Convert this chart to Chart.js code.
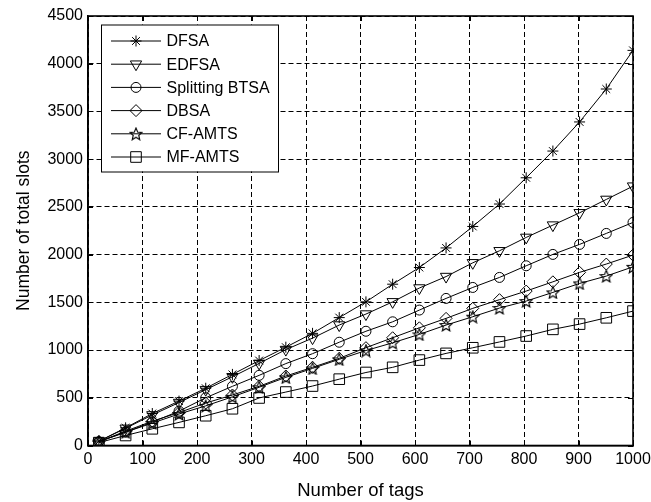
<!DOCTYPE html>
<html>
<head>
<meta charset="utf-8">
<script src="https://cdn.jsdelivr.net/npm/chart.js@4/dist/chart.umd.min.js"></script>
<style>
  html, body { margin: 0; padding: 0; background: #fff; }
  #wrap { width: 651px; height: 502px; }
</style>
</head>
<body>
<div id="wrap"><canvas id="slotsChart" width="651" height="502"></canvas></div>
<script>
// Number of tags (x positions of the markers)
const tags = [20, 69, 118, 167, 216, 265, 314, 363, 412, 461, 510, 559, 608, 657, 706, 755, 804, 853, 902, 951, 1000];

// Number of total slots per scheme
const dfsa = [45, 185, 335, 465, 600, 745, 890, 1030, 1175, 1340, 1505, 1690, 1865, 2070, 2295, 2530, 2805, 3085, 3390, 3735, 4140];
const edfsa = [45, 180, 320, 450, 585, 720, 860, 1005, 1125, 1262, 1377, 1505, 1650, 1770, 1914, 2040, 2180, 2309, 2438, 2578, 2717];
const splittingBtsa = [40, 140, 245, 360, 500, 620, 735, 858, 962, 1082, 1197, 1296, 1419, 1541, 1656, 1761, 1883, 2002, 2107, 2222, 2337];
const dbsa = [40, 150, 255, 345, 445, 529, 620, 728, 819, 913, 1025, 1129, 1233, 1332, 1437, 1528, 1618, 1715, 1814, 1901, 1995];
const cfAmts = [40, 140, 235, 330, 415, 510, 610, 714, 808, 903, 995, 1076, 1164, 1262, 1349, 1440, 1513, 1604, 1698, 1775, 1872];
const mfAmts = [30, 105, 175, 242, 312, 385, 498, 560, 623, 695, 765, 819, 895, 965, 1024, 1085, 1147, 1217, 1272, 1338, 1408];

const xTicks = [0, 100, 200, 300, 400, 500, 600, 700, 800, 900, 1000];
const yTicks = [0, 500, 1000, 1500, 2000, 2500, 3000, 3500, 4000, 4500];

const FONT = '"Liberation Sans", Arial, Helvetica, sans-serif';

// hollow five-point star marker (not built into Chart.js)
function pentagram(size) {
    const c = document.createElement('canvas');
    c.width = size;
    c.height = size;
    const g = c.getContext('2d');
    const cx = size / 2, cy = size / 2 + 0.6;
    const R = size / 2 - 0.6, r = R * 0.45;
    g.beginPath();
    for (let i = 0; i < 10; i++) {
        const rad = (i % 2 === 0) ? R : r;
        const a = -Math.PI / 2 + i * Math.PI / 5;
        const px = cx + rad * Math.cos(a), py = cy + rad * Math.sin(a);
        if (i === 0) g.moveTo(px, py); else g.lineTo(px, py);
    }
    g.closePath();
    g.strokeStyle = '#000';
    g.lineWidth = 1.1;
    g.stroke();
    return c;
}
const starImg = pentagram(14);

function series(label, values, style, radius, rotation) {
    return {
        label: label,
        data: tags.map((t, i) => ({ x: t, y: values[i] })),
        borderColor: '#000',
        borderWidth: 1,
        backgroundColor: 'transparent',
        pointStyle: style,
        pointRadius: radius,
        pointRotation: rotation || 0,
        pointBorderColor: '#000',
        pointBackgroundColor: 'transparent',
        pointBorderWidth: 1,
        pointHoverRadius: radius,
        tension: 0,
        fill: false,
    };
}

// box around the axes plus MATLAB style inner ticks
const axesBox = {
    id: 'axesBox',
    afterDraw(chart) {
        const { ctx, chartArea: a, scales } = chart;
        ctx.save();
        ctx.strokeStyle = '#000';
        ctx.lineWidth = 1;
        ctx.beginPath();
        xTicks.forEach(v => {
            const px = Math.round(scales.x.getPixelForValue(v)) + 0.5;
            ctx.moveTo(px, a.bottom); ctx.lineTo(px, a.bottom - 5);
            ctx.moveTo(px, a.top); ctx.lineTo(px, a.top + 5);
        });
        yTicks.forEach(v => {
            const py = Math.round(scales.y.getPixelForValue(v)) + 0.5;
            ctx.moveTo(a.left, py); ctx.lineTo(a.left + 5, py);
            ctx.moveTo(a.right, py); ctx.lineTo(a.right - 5, py);
        });
        ctx.stroke();
        ctx.lineWidth = 1.6;
        ctx.strokeRect(a.left, a.top, a.right - a.left, a.bottom - a.top);
        ctx.restore();
    }
};

// boxed legend in the upper left corner of the axes
const boxLegend = {
    id: 'boxLegend',
    afterDraw(chart) {
        const { ctx, chartArea: a } = chart;
        const left = a.left + 13, top = a.top + 8.5;
        const w = 177, h = 147, rowH = 23.2;
        ctx.save();
        ctx.fillStyle = '#fff';
        ctx.fillRect(left, top, w, h);
        ctx.strokeStyle = '#000';
        ctx.lineWidth = 1;
        ctx.strokeRect(left + 0.5, top + 0.5, w, h);
        ctx.font = '16px ' + FONT;
        ctx.textBaseline = 'middle';
        chart.data.datasets.forEach((ds, i) => {
            const y = top + 16.5 + i * rowH;
            ctx.strokeStyle = '#000';
            ctx.lineWidth = 1;
            ctx.beginPath();
            ctx.moveTo(left + 10, y);
            ctx.lineTo(left + 60, y);
            ctx.stroke();
            ctx.fillStyle = 'rgba(0,0,0,0)';
            if (Chart.helpers && Chart.helpers.drawPoint) {
                Chart.helpers.drawPoint(ctx, {
                    pointStyle: ds.pointStyle,
                    rotation: ds.pointRotation,
                    radius: ds.pointRadius,
                    borderWidth: 1
                }, left + 35, y);
            }
            ctx.fillStyle = '#000';
            ctx.fillText(ds.label, left + 65.5, y + 1);
        });
        ctx.restore();
    }
};

new Chart(document.getElementById('slotsChart'), {
    type: 'line',
    data: {
        datasets: [
            series('DFSA', dfsa, 'star', 5.5),
            series('EDFSA', edfsa, 'triangle', 6.5, 180),
            series('Splitting BTSA', splittingBtsa, 'circle', 5),
            series('DBSA', dbsa, 'rectRot', 6),
            series('CF-AMTS', cfAmts, starImg, 6),
            series('MF-AMTS', mfAmts, 'rect', 7.5),
        ]
    },
    options: {
        responsive: false,
        animation: false,
        events: [],
        layout: { padding: { left: 0, right: 18, top: 16, bottom: 0 } },
        plugins: {
            legend: { display: false },
            tooltip: { enabled: false },
        },
        scales: {
            x: {
                type: 'linear',
                min: 0,
                max: 1000,
                afterBuildTicks: s => { s.ticks = xTicks.map(v => ({ value: v })); },
                afterFit: s => { s.height = 56.5; s.paddingLeft = 0; s.paddingRight = 0; },
                ticks: {
                    color: '#000', font: { family: FONT, size: 16 }, padding: 4, maxRotation: 0,
                    callback: v => String(v)
                },
                grid: { color: '#000', lineWidth: 1, drawTicks: false },
                border: { display: true, color: '#000', width: 1.5, dash: [5, 3] },
                title: {
                    display: true,
                    text: 'Number of tags',
                    color: '#000',
                    font: { family: FONT, size: 18.5 },
                    padding: { top: 2, bottom: 0 }
                }
            },
            y: {
                type: 'linear',
                min: 0,
                max: 4500,
                afterBuildTicks: s => { s.ticks = yTicks.map(v => ({ value: v })); },
                afterFit: s => { s.width = 88; s.paddingTop = 0; s.paddingBottom = 0; },
                ticks: {
                    color: '#000', font: { family: FONT, size: 16 }, padding: 5,
                    callback: v => String(v)
                },
                grid: { color: '#000', lineWidth: 1, drawTicks: false },
                border: { display: true, color: '#000', width: 1.5, dash: [5, 3] },
                title: {
                    display: true,
                    text: 'Number of total slots',
                    color: '#000',
                    font: { family: FONT, size: 17.5 },
                    padding: { top: 14, bottom: 0 }
                }
            }
        }
    },
    plugins: [axesBox, boxLegend]
});
</script>
</body>
</html>
